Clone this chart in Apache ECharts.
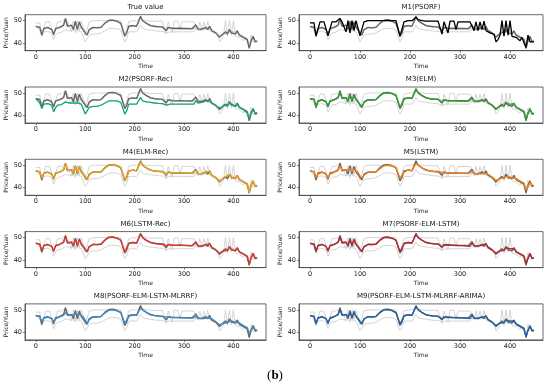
<!DOCTYPE html>
<html>
<head>
<meta charset="utf-8">
<script src="https://cdn.jsdelivr.net/npm/echarts@6/dist/echarts.min.js"></script>
<style>html,body{margin:0;padding:0;background:#fff;}#c{width:550px;height:391px;}</style>
</head>
<body>
<div id="c"></div>
<script>
// Sampling step of the time axis (one value every 4 time units)
const timeStep = 4;
const xTicks = [0, 100, 200, 300, 400];
const yTicks = [40, 50];

const trueValue = [
47.5,48.0,47.0,43.5,46.5,46.5,47.0,46.8,46.0,43.8,
46.5,46.8,47.0,47.0,48.0,51.0,47.5,47.8,48.0,46.0,
49.8,46.0,49.5,47.0,46.8,44.5,43.5,46.0,46.8,47.0,
47.2,46.8,47.5,47.0,48.0,49.0,49.5,50.2,50.0,50.3,
49.8,49.8,49.0,48.8,48.5,43.0,44.5,47.5,48.0,47.8,
48.0,47.5,48.0,52.0,50.0,49.2,48.8,48.2,47.8,47.5,
47.5,47.2,47.3,47.0,47.2,47.0,45.5,47.0,46.8,46.5,
46.8,46.5,46.5,46.6,46.4,46.5,46.3,46.5,46.2,46.4,
46.0,48.2,46.3,46.0,46.2,46.0,47.0,46.0,47.5,45.5,
45.0,44.5,44.0,42.5,43.5,44.0,45.0,44.0,46.0,44.5,
45.0,44.0,45.5,43.5,43.8,42.5,43.0,41.5,37.5,41.0,
43.0,40.5,40.8];

const m1 = [
49.0,49.5,49.0,43.0,43.0,49.5,49.8,49.5,49.6,43.2,
43.0,49.5,49.8,49.5,50.0,51.0,49.5,50.0,45.0,50.0,
44.5,50.0,45.5,50.0,49.8,43.2,43.0,49.5,49.8,50.0,
49.8,50.0,49.8,50.0,50.0,50.0,49.8,50.0,50.0,50.2,
50.0,50.0,49.8,50.0,49.8,43.0,43.5,49.5,50.0,50.0,
49.8,50.0,50.0,51.5,50.5,50.2,50.0,50.0,49.8,50.0,
49.8,50.0,49.8,50.0,49.8,50.0,44.0,49.5,50.0,44.5,
49.8,49.5,49.8,46.0,49.5,49.8,49.5,49.8,49.5,49.8,
49.5,50.0,45.5,49.5,45.5,49.5,46.0,49.8,45.5,45.0,
44.5,44.5,44.0,40.5,41.5,43.5,50.0,43.0,50.0,43.5,
50.0,43.0,43.5,42.5,43.0,41.0,42.5,40.0,38.0,43.5,
40.5,41.0,40.5];

const m2 = [
47.5,47.0,45.5,43.0,45.0,45.0,45.2,45.0,44.5,41.5,
43.5,44.5,44.8,44.8,45.0,46.0,45.5,45.5,45.8,45.5,
46.0,45.5,45.5,45.0,44.5,40.5,40.0,43.5,44.0,44.0,
44.2,44.0,44.5,44.5,45.0,45.5,46.0,46.5,46.5,46.5,
46.2,46.5,46.0,45.8,45.5,40.5,42.0,45.0,45.2,45.0,
45.0,45.0,45.0,48.0,46.5,46.5,46.0,46.0,45.8,45.5,
45.5,45.5,45.3,45.5,45.2,45.3,44.5,45.0,45.0,45.0,
45.0,44.8,45.0,44.8,45.0,45.0,45.0,45.0,45.0,45.2,
45.0,46.5,45.5,45.5,45.8,45.8,46.5,46.0,46.5,45.5,
44.8,44.5,43.5,43.0,43.5,44.5,45.0,44.5,46.0,45.0,
44.5,44.0,45.0,43.5,43.5,42.5,42.0,41.0,38.5,41.5,
42.5,41.0,41.2];

const m3 = [
47.3,47.8,47.2,44.0,46.2,46.6,46.8,46.9,46.2,44.2,
46.2,46.6,46.9,47.1,47.8,50.5,47.8,47.9,47.8,46.5,
49.0,46.8,48.8,47.2,46.9,44.8,43.8,45.8,46.6,46.9,
47.1,46.9,47.3,47.1,47.8,48.8,49.4,50.0,50.1,50.1,
49.9,49.7,49.2,48.9,48.3,43.5,44.2,47.2,47.9,47.9,
47.8,47.6,47.8,51.5,50.3,49.4,48.9,48.3,47.9,47.6,
47.4,47.3,47.2,47.1,47.1,46.9,45.8,46.8,46.9,46.6,
46.7,46.6,46.4,46.6,46.5,46.4,46.4,46.4,46.3,46.3,
46.1,47.6,46.5,46.1,46.2,46.1,46.7,46.2,47.0,45.7,
45.1,44.6,44.1,42.8,43.3,44.1,44.8,44.3,45.5,44.7,
44.9,44.2,45.2,43.7,43.7,42.7,42.8,41.6,38.0,40.8,
42.6,40.8,40.6];

const m4 = [
47.6,47.9,47.0,44.2,46.4,46.5,46.9,46.7,46.0,44.0,
46.4,46.7,46.9,47.0,47.9,50.8,47.6,47.7,47.9,46.3,
49.5,46.4,49.2,47.0,46.7,44.6,43.6,46.0,46.7,47.0,
47.1,46.8,47.4,47.0,47.9,48.9,49.4,50.1,50.0,50.2,
49.8,49.7,49.0,48.8,48.4,43.3,44.4,47.4,47.9,47.8,
47.9,47.5,47.9,51.7,50.1,49.3,48.8,48.2,47.8,47.5,
47.5,47.2,47.3,47.0,47.2,47.0,45.7,46.9,46.8,46.5,
46.8,46.5,46.5,46.6,46.4,46.5,46.3,46.5,46.2,46.4,
46.0,47.9,46.3,46.0,46.2,46.0,46.9,46.0,47.3,45.6,
45.0,44.5,44.0,42.7,43.5,44.0,45.0,44.1,45.8,44.6,
45.0,44.0,45.4,43.6,43.8,42.6,43.0,41.6,37.8,41.0,
42.9,40.6,40.8];

const m5 = [
47.4,47.7,47.2,44.5,46.0,46.5,46.8,46.8,46.3,44.5,
46.0,46.5,46.8,47.0,47.6,49.8,48.0,47.8,47.7,47.0,
48.5,47.2,48.2,47.3,46.9,45.2,44.2,45.5,46.4,46.8,
47.0,47.0,47.2,47.1,47.6,48.5,49.2,49.8,50.0,50.0,
49.9,49.6,49.3,48.9,48.4,44.2,44.0,46.8,47.7,47.9,
47.8,47.6,47.7,50.8,50.5,49.5,49.0,48.4,48.0,47.7,
47.5,47.3,47.2,47.1,47.1,47.0,46.2,46.6,46.8,46.6,
46.7,46.6,46.5,46.5,46.5,46.4,46.4,46.4,46.3,46.3,
46.1,47.2,46.7,46.2,46.1,46.1,46.5,46.3,46.8,46.0,
45.3,44.8,44.3,43.2,43.2,43.9,44.6,44.5,45.2,45.0,
44.8,44.4,45.0,44.0,43.8,43.0,42.8,42.0,39.0,40.2,
42.2,41.2,40.6];

const m6 = [
47.5,47.9,47.1,43.8,46.4,46.5,46.9,46.8,46.1,44.0,
46.3,46.7,46.9,47.0,47.9,50.6,47.7,47.8,47.9,46.4,
49.3,46.5,49.0,47.1,46.8,44.7,43.7,45.9,46.7,46.9,
47.2,46.8,47.4,47.0,47.9,48.9,49.5,50.1,50.0,50.2,
49.8,49.8,49.1,48.8,48.4,43.4,44.3,47.3,47.9,47.8,
47.9,47.5,47.9,51.6,50.2,49.2,48.8,48.2,47.8,47.5,
47.4,47.2,47.3,47.0,47.1,46.9,45.8,46.9,46.8,46.5,
46.7,46.5,46.5,46.6,46.4,46.5,46.3,46.4,46.2,46.4,
46.0,47.8,46.4,46.0,46.2,46.0,46.8,46.1,47.2,45.6,
45.0,44.5,44.0,42.8,43.4,44.0,44.9,44.2,45.7,44.6,
44.9,44.1,45.3,43.6,43.8,42.6,42.9,41.6,37.9,40.9,
42.8,40.7,40.7];

const m7 = [
47.4,47.8,47.1,44.0,46.3,46.5,46.9,46.8,46.1,44.1,
46.3,46.7,46.9,47.0,47.8,50.4,47.8,47.8,47.9,46.6,
49.1,46.6,48.9,47.1,46.8,44.8,43.8,45.9,46.7,46.9,
47.1,46.9,47.3,47.1,47.8,48.8,49.4,50.0,50.0,50.1,
49.8,49.7,49.1,48.8,48.4,43.6,44.2,47.2,47.8,47.8,
47.8,47.6,47.8,51.4,50.2,49.3,48.8,48.3,47.8,47.6,
47.4,47.3,47.2,47.1,47.1,46.9,45.9,46.8,46.8,46.6,
46.7,46.5,46.5,46.6,46.4,46.4,46.4,46.4,46.3,46.3,
46.1,47.7,46.4,46.1,46.2,46.1,46.7,46.2,47.1,45.7,
45.1,44.6,44.1,42.9,43.4,44.0,44.8,44.3,45.6,44.7,
44.9,44.2,45.2,43.7,43.7,42.7,42.8,41.7,38.2,40.7,
42.6,40.9,40.7];

const m8 = [
47.2,47.8,47.3,44.5,46.2,46.5,46.8,46.8,46.2,44.6,
46.0,46.6,46.8,47.0,47.5,48.8,47.8,47.9,47.7,47.2,
48.0,47.4,48.0,47.3,46.9,45.4,44.0,45.6,46.5,46.8,
47.0,47.0,47.2,47.1,47.7,48.6,49.3,49.9,50.0,50.0,
49.9,49.6,49.3,48.9,48.5,44.0,44.2,47.0,47.8,47.9,
47.8,47.6,47.7,50.8,50.4,49.4,48.9,48.4,48.0,47.7,
47.5,47.3,47.2,47.1,47.1,47.0,46.3,46.6,46.8,46.6,
46.7,46.6,46.5,46.5,46.5,46.4,46.4,46.4,46.3,46.3,
46.1,47.0,46.7,46.2,46.1,46.1,46.4,46.3,46.7,46.0,
45.3,44.8,44.3,43.3,43.2,43.8,44.5,44.5,45.0,45.0,
44.8,44.4,44.9,44.2,43.8,43.0,42.8,42.1,39.5,40.2,
42.0,41.3,40.6];

const m9 = [
47.4,47.9,47.1,44.0,46.3,46.5,46.9,46.8,46.1,44.1,
46.2,46.7,46.9,47.0,47.8,50.2,47.8,47.8,47.9,46.8,
48.8,46.9,48.6,47.2,46.8,44.8,43.8,45.9,46.7,46.9,
47.1,46.9,47.3,47.1,47.8,48.8,49.4,50.0,50.1,50.1,
49.8,49.7,49.1,48.8,48.4,43.5,44.3,47.2,47.8,47.8,
47.8,47.6,47.8,51.5,50.2,49.3,48.8,48.3,47.8,47.6,
47.4,47.3,47.2,47.1,47.1,46.9,45.9,46.8,46.8,46.6,
46.7,46.5,46.5,46.6,46.4,46.4,46.4,46.4,46.3,46.3,
46.1,47.6,46.4,46.1,46.2,46.1,46.7,46.2,47.1,45.7,
45.1,44.6,44.1,42.9,43.4,44.0,44.8,44.3,45.5,44.7,
44.9,44.2,45.1,43.7,43.7,42.7,42.8,41.7,38.0,40.7,
42.6,40.9,40.7];

const modelNames = ["M1(PSORF)","M2(PSORF-Rec)","M3(ELM)","M4(ELM-Rec)","M5(LSTM)",
  "M6(LSTM-Rec)","M7(PSORF-ELM-LSTM)","M8(PSORF-ELM-LSTM-MLRRF)","M9(PSORF-ELM-LSTM-MLRRF-ARIMA)"];
const models = [m1, m2, m3, m4, m5, m6, m7, m8, m9];
const modelColors = ["#000000","#13a67a","#2ca02c","#f3a20e","#ff7f0e","#e0332c","#b8232b","#3a8cc8","#1f5ea8"];
const panelTitles = ["True value"].concat(modelNames);

// ---------- build chart ----------
const FONT = "DejaVu Sans";
const toPairs = arr => arr.map((v, i) => [i * timeStep, v]);

const grids = [], xAxes = [], yAxes = [], series = [], graphics = [];
const colLeft = [25, 299], colWidth = [241, 244];
for (let p = 0; p < 10; p++) {
  const row = Math.floor(p / 2), col = p % 2;
  const top = 14.7 + 72.3 * row, h = 36;
  grids.push({left: colLeft[col], top: top, width: colWidth[col], height: h,
    show: true, borderColor: "#444", borderWidth: 0.8, backgroundColor: "transparent", containLabel: false});
  xAxes.push({type: "value", gridIndex: p, min: -22, max: 466,
    name: "Time", nameLocation: "middle", nameGap: 13,
    nameTextStyle: {fontFamily: FONT, fontSize: 6, color: "#222"},
    axisLine: {show: true, onZero: false, lineStyle: {color: "#444", width: 0.8}},
    axisTick: {show: true, length: 2, customValues: xTicks, lineStyle: {color: "#444", width: 0.7}},
    axisLabel: {customValues: xTicks, fontFamily: FONT, fontSize: 6.5, color: "#222", margin: 3},
    splitLine: {show: false}});
  yAxes.push({type: "value", gridIndex: p, min: 36.5, max: 52.7,
    name: "Price/Yuan", nameLocation: "middle", nameGap: col === 0 ? 13 : 11, nameRotate: 90,
    nameTextStyle: {fontFamily: FONT, fontSize: 6, color: "#222"},
    axisLine: {show: true, onZero: false, lineStyle: {color: "#444", width: 0.8}},
    axisTick: {show: true, length: 2, customValues: yTicks, lineStyle: {color: "#444", width: 0.7}},
    axisLabel: {customValues: yTicks, fontFamily: FONT, fontSize: 6.5, color: "#222", margin: 3},
    splitLine: {show: false}});
  // all models in light grey
  models.forEach(m => series.push({type: "line", xAxisIndex: p, yAxisIndex: p, data: toPairs(m),
    showSymbol: false, silent: true, lineStyle: {color: "#cfcfcf", width: 0.9}, z: 1}));
  series.push({type: "line", xAxisIndex: p, yAxisIndex: p, data: toPairs(trueValue),
    showSymbol: false, silent: true, lineStyle: {color: "#646464", width: 1.3}, z: 2});
  if (p > 0) {
    series.push({type: "line", xAxisIndex: p, yAxisIndex: p, data: toPairs(models[p - 1]),
      showSymbol: false, silent: true, lineStyle: {color: modelColors[p - 1], width: 1.3}, z: 3});
  }
  graphics.push({type: "text", x: colLeft[col] + colWidth[col] / 2, y: top - 7.5,
    style: {text: panelTitles[p], textAlign: "center", textVerticalAlign: "middle",
      font: "7px '" + FONT + "'", fill: "#111"}});
}
graphics.push({type: "text", x: 275, y: 376,
  style: {text: "{a|(}{b|b}{a|)}", textAlign: "center", textVerticalAlign: "middle",
    rich: {a: {fontFamily: "Liberation Serif", fontSize: 13, fill: "#000"},
           b: {fontFamily: "Liberation Serif", fontSize: 13, fontWeight: "bold", fill: "#000"}}}});

const chart = echarts.init(document.getElementById("c"), null, {renderer: "canvas"});
chart.setOption({animation: false, backgroundColor: "#fff",
  grid: grids, xAxis: xAxes, yAxis: yAxes, series: series, graphic: graphics});
</script>
</body>
</html>
